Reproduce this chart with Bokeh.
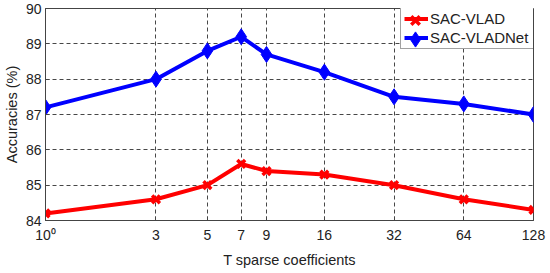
from bokeh.plotting import figure
from bokeh.models import FixedTicker, Range1d, Legend, LegendItem
from bokeh.core.properties import value
from bokeh.embed import file_html
from bokeh.resources import INLINE

T_values = [1, 3, 5, 7, 9, 16, 32, 64, 128]
tick_labels = ["10⁰", "3", "5", "7", "9", "16", "32", "64", "128"]
sac_vlad = [84.2, 84.6, 85.0, 85.6, 85.4, 85.3, 85.0, 84.6, 84.3]
sac_vladnet = [87.2, 88.0, 88.8, 89.2, 88.7, 88.2, 87.5, 87.3, 87.0]
y_ticks = [84, 85, 86, 87, 88, 89, 90]
series_names = ["SAC-VLAD", "SAC-VLADNet"]

FONT = "Liberation Sans"
W, H = 550, 273
BL, BR, BT, BB = 42, 17, 8, 53
FRAME_H = H - BT - BB

p = figure(width=W, height=H, x_axis_type="log",
           x_range=Range1d(1, 128), y_range=Range1d(84, 90),
           output_backend="svg", toolbar_location=None,
           min_border_left=BL, min_border_right=BR, min_border_top=BT, min_border_bottom=BB)

p.outline_line_color = "#444444"
p.outline_line_width = 1
p.background_fill_color = "white"
p.border_fill_color = "white"

# axes
p.xaxis.ticker = FixedTicker(ticks=T_values)
p.xaxis.major_label_overrides = {t: l for t, l in zip(T_values, tick_labels)}
p.yaxis.ticker = FixedTicker(ticks=y_ticks)
p.xaxis.axis_label = "T sparse coefficients"
p.yaxis.axis_label = "Accuracies (%)"
for ax in (p.xaxis[0], p.yaxis[0]):
    ax.axis_line_color = "#444444"
    ax.major_tick_in = 4
    ax.major_tick_out = 0
    ax.major_tick_line_color = "#444444"
    ax.minor_tick_line_color = None
    ax.major_label_text_font = FONT
    ax.major_label_text_font_size = "14px"
    ax.major_label_text_color = "#222222"
    ax.axis_label_text_font = FONT
    ax.axis_label_text_font_size = "14.5px"
    ax.axis_label_text_font_style = "normal"
    ax.axis_label_text_color = "#222222"
p.xaxis.major_label_standoff = 6
p.xaxis.axis_label_standoff = 6
p.yaxis.major_label_standoff = 4
p.yaxis.axis_label_standoff = 3

for g in (p.xgrid[0], p.ygrid[0]):
    g.grid_line_color = "#333333"
    g.grid_line_dash = "4 3"
    g.grid_line_width = 1
    g.grid_line_alpha = 0.9
p.xgrid.ticker = FixedTicker(ticks=T_values)
p.ygrid.ticker = FixedTicker(ticks=y_ticks)

r1 = p.line(T_values, sac_vlad, line_color="#ff0000", line_width=4)
m1 = p.scatter(T_values, sac_vlad, marker="x", size=11, line_color="#ff0000", line_width=3.5)
r2 = p.line(T_values, sac_vladnet, line_color="#0000ff", line_width=4)
m2 = p.scatter(T_values, sac_vladnet, marker="diamond", size=16, fill_color="#0000ff",
               line_color="#0000ff", line_width=1)

# main legend (lines + labels), positioned in screen px relative to frame
LEG_X = 355
PAD_L, PAD_T, PAD_B = 3, 3, 2
ROW_H, ROW_SP, GW = 17, 2, 24
leg_h = PAD_T + 2 * ROW_H + ROW_SP + PAD_B
legend = Legend(items=[LegendItem(label=series_names[0], renderers=[r1]),
                       LegendItem(label=series_names[1], renderers=[r2])],
                location=(LEG_X, FRAME_H - leg_h), margin=0,
                padding=dict(left=PAD_L, right=9, top=PAD_T, bottom=PAD_B),
                spacing=ROW_SP, glyph_width=GW, glyph_height=ROW_H, label_height=ROW_H,
                label_standoff=2,
                label_text_font=FONT, label_text_font_size="15px",
                label_text_color="#222222",
                border_line_color="#444444", border_line_width=1,
                background_fill_color="white", background_fill_alpha=1)
p.add_layout(legend)

# overlay legends for the markers (bigger glyph box -> bigger marker), no text
glyph_cx = LEG_X + PAD_L + GW / 2
for k, (rend, gsize) in enumerate([(m1, 30), (m2, 38)]):
    cy = PAD_T + ROW_H / 2 + k * (ROW_H + ROW_SP)
    lm = Legend(items=[LegendItem(label=value(""), renderers=[rend])],
                location=(glyph_cx - gsize / 2, FRAME_H - cy - gsize / 2), margin=0,
                padding=0, glyph_width=gsize, glyph_height=gsize, label_height=gsize,
                label_standoff=0, label_width=0, label_text_font_size="1px",
                label_text_alpha=0, border_line_color=None,
                background_fill_alpha=0)
    p.add_layout(lm)

open("out.html", "w").write(file_html(p, INLINE))
